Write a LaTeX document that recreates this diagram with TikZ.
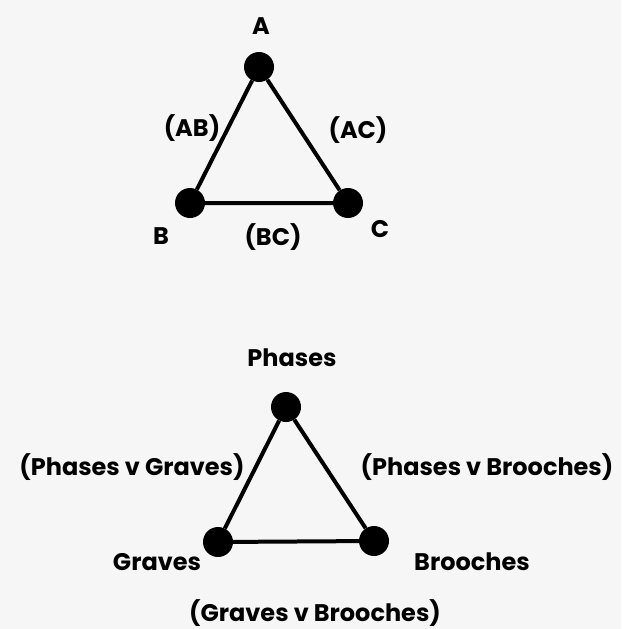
\documentclass[tikz,border=0pt]{standalone}
\usepackage{fontspec}
\setmainfont{Poppins}
\begin{document}
\begin{tikzpicture}[x=1pt,y=-1pt,
  vertex/.style={circle,fill=black,inner sep=0pt,minimum size=30pt},
  edge/.style={line width=4pt},
  lbl/.style={font=\bfseries\fontsize{24}{28}\selectfont,inner sep=0pt}]
\fill[gray!7] (0,0) rectangle (621,629);
\useasboundingbox (0,0) rectangle (621,629);
%
% Triangle A, B, C
\node[vertex] (A) at (259,67) {};
\node[vertex] (B) at (190,203) {};
\node[vertex] (C) at (348,203) {};
\draw[edge] (A) -- (B) -- (C) -- (A);
\node[lbl] (labA) at (261,26) {A};
\node[lbl] (labB) at (161,236) {B};
\node[lbl] (labC) at (380,229) {C};
\node[lbl] (labAB) at (192,128) {(AB)};
\node[lbl] (labAC) at (358,130) {(AC)};
\node[lbl] (labBC) at (273,237) {(BC)};

%
% Triangle Phases, Graves, Brooches
\node[vertex] (phases) at (286,407) {};
\node[vertex] (graves) at (218,542) {};
\node[vertex] (brooches) at (374,541) {};
\draw[edge] (phases) -- (graves) -- (brooches) -- (phases);
\node[lbl] (labphases) at (292,358) {Phases};
\node[lbl] (labgraves) at (157,562) {Graves};
\node[lbl] (labbrooches) at (472,562) {Brooches};
\node[lbl] (labPG) at (132,467) {(Phases v Graves)};
\node[lbl] (labPB) at (487,467) {(Phases v Brooches)};
\node[lbl] (labGB) at (315,613) {(Graves v Brooches)};
\end{tikzpicture}
\end{document}
